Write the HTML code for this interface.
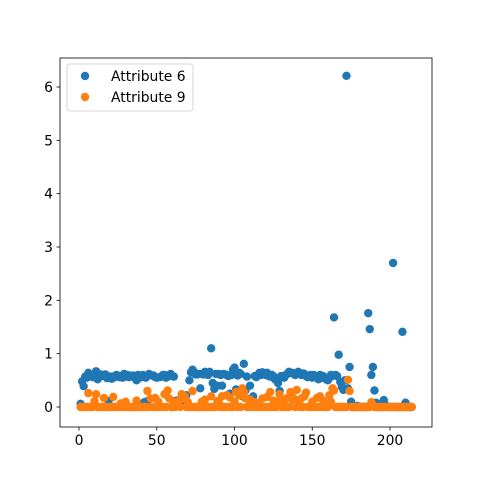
<!DOCTYPE html>
<html><head><meta charset="utf-8"><style>
body{margin:0;background:#fff}
svg text{font-family:"DejaVu Sans","Liberation Sans",sans-serif;font-size:13.9px;fill:#000}
</style></head><body>
<svg id="chart" width="480" height="480" xmlns="http://www.w3.org/2000/svg">
<rect x="0" y="0" width="480" height="480" fill="#fff"/>
<g id="marks"></g>
<g id="axes"></g>
</svg>
<script>
const attr6 = [0.06,0.48,0.39,0.57,0.55,0.64,0.58,0.57,0.56,0.57,
0.67,0.52,0.6,0.61,0.58,0.59,0.61,0.54,0.11,0.57,
0.53,0.57,0.56,0.6,0.59,0.56,0.58,0.55,0.62,0.58,
0.6,0.56,0.59,0.57,0.59,0.58,0.5,0.6,0.55,0.56,
0.6,0.09,0.55,0.11,0.62,0.6,0.59,0.59,0.56,0.55,
0.05,0.56,0.57,0.6,0.6,0.55,0.57,0.6,0.62,0.58,
0.57,0.11,0.12,0.05,0.08,0.15,0.15,0.18,0.22,0.06,
0.5,0.65,0.7,0.66,0.61,0.61,0.62,0.35,0.62,0.61,
0.66,0.64,0.6,0.66,1.1,0.45,0.34,0.62,0.4,0.62,
0.6,0.4,0.62,0.61,0.6,0.58,0.25,0.6,0.7,0.74,
0.33,0.59,0.64,0.62,0.2,0.81,0.31,0.57,0.15,0.4,
0.05,0.2,0.58,0.56,0.6,0.64,0.6,0.65,0.62,0.6,
0.64,0.58,0.57,0.6,0.58,0.52,0.5,0.45,0.3,0.58,
0.56,0.55,0.6,0.62,0.66,0.64,0.64,0.62,0.6,0.64,
0.66,0.62,0.6,0.63,0.62,0.58,0.56,0.58,0.6,0.55,
0.6,0.57,0.58,0.52,0.6,0.55,0.58,0.54,0.52,0.5,
0.55,0.6,0.58,1.68,0.6,0.58,0.98,0.47,0.38,0.32,
0.5,6.21,0.35,0.75,0.1,0.0,0.0,0.0,0.02,0.0,
0.0,0.0,0.0,0.0,0.0,1.76,1.46,0.6,0.75,0.31,
0.08,0.0,0.0,0.0,0.05,0.13,0.04,0.0,0.0,0.0,
0.0,2.7,0.0,0.0,0.0,0.0,0.0,1.41,0.0,0.08,
0.0,0.0,0.0,0.0];
const attr9 = [0,0,0,0,0,0.26,0,0,0,0.11,
0.24,0,0,0,0,0.17,0,0,0,0,
0,0.19,0,0,0,0,0.07,0,0,0.1,
0,0,0,0,0,0,0.12,0,0,0,
0,0,0,0.3,0,0.16,0,0,0.17,0,
0.1,0,0,0,0.24,0,0.31,0.16,0,0,
0.09,0,0.1,0.11,0,0.24,0.16,0.2,0,0.09,
0,0,0.3,0,0,0,0,0,0.1,0,
0.14,0,0,0,0.2,0,0,0,0.11,0.08,
0,0.2,0,0,0.22,0,0.18,0,0,0.1,
0.28,0,0.22,0,0.35,0.28,0.16,0,0,0.14,
0,0,0.09,0,0.07,0,0,0.16,0,0,
0.19,0,0.28,0,0.12,0,0,0.1,0.24,0,
0,0.12,0,0.17,0,0.28,0.14,0.17,0,0.32,
0.1,0,0.16,0,0.2,0.27,0,0,0,0.1,
0,0,0.17,0,0.2,0,0.12,0,0,0,
0.22,0.1,0.35,0.31,0,0,0,0,0,0,
0,0,0.51,0.3,0,0,0,0,0,0,
0,0,0,0,0,0,0,0.09,0.03,0,
0,0,0,0,0,0,0,0,0,0,
0,0,0,0,0,0,0,0,0,0,
0,0,0,0];
const xTicks = [0,50,100,150,200];
const yTicks = [0,1,2,3,4,5,6];
const seriesNames = ["Attribute 6","Attribute 9"];
const colors = ["#1f77b4","#ff7f0e"];

const NS="http://www.w3.org/2000/svg";
const L=60,R=432,T=58,B=427;
const xs=v=>79+v*1.555;
const ys=v=>407-v*53.33;
function mk(tag,attrs,parent){const e=document.createElementNS(NS,tag);for(const k in attrs)e.setAttribute(k,attrs[k]);parent.appendChild(e);return e;}
const marks=document.getElementById('marks');
const axes=document.getElementById('axes');
[attr6,attr9].forEach((arr,si)=>{
  const g=mk('g',{},marks);
  
  
  arr.forEach((v,i)=>{
    const c=mk('circle',{cx:xs(i+1),cy:ys(v),r:4.2,fill:colors[si]},g);
    
    
  });
});
const frame=mk('rect',{x:L,y:T,width:R-L,height:B-T,fill:'none',stroke:'#000','stroke-width':0.8},axes);


xTicks.forEach(t=>{
  const x=xs(t);
  mk('line',{x1:x,x2:x,y1:B,y2:B+3.5,stroke:'#000','stroke-width':0.8},axes);
  const tx=mk('text',{x:x,y:B+18,'text-anchor':'middle'},axes);
  tx.textContent=t;
  
  
});
yTicks.forEach(t=>{
  const y=ys(t);
  mk('line',{x1:L-3.5,x2:L,y1:y,y2:y,stroke:'#000','stroke-width':0.8},axes);
  const tx=mk('text',{x:L-7,y:y+5,'text-anchor':'end'},axes);
  tx.textContent=t;
  
  
});
const lg=mk('g',{},axes);


mk('rect',{x:67,y:64,width:126,height:47,rx:3,fill:'#fff','fill-opacity':0.8,stroke:'#ccc','stroke-width':0.8},lg);
seriesNames.forEach((n,i)=>{
  const y=76+i*21;
  mk('circle',{cx:85,cy:y,r:4.2,fill:colors[i]},lg);
  const t=mk('text',{x:111,y:y+5},lg);
  t.textContent=n;
  
  
});
</script>
</body></html>
